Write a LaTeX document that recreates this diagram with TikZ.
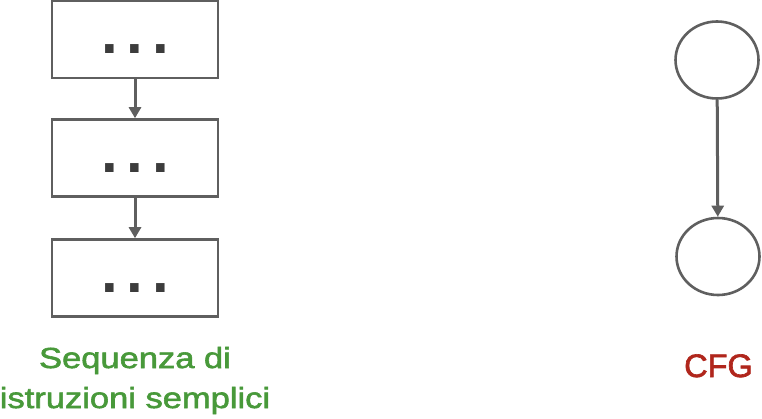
\documentclass[tikz,border=0pt]{standalone}
\usepackage{fontspec}
\setmainfont{Liberation Sans}
\newfontfamily\labelfont[FakeStretch=1.19,FakeBold=2]{Liberation Sans}
\newfontfamily\cfgfont[FakeBold=2]{Liberation Sans}
\newfontfamily\dotfont{Liberation Sans Bold}
\usetikzlibrary{arrows.meta,shapes.geometric}

\definecolor{linegray}{RGB}{95,95,95}
\definecolor{dotgray}{RGB}{60,60,60}
\definecolor{seqgreen}{RGB}{72,153,58}
\definecolor{cfgred}{RGB}{176,38,28}

\newcommand{\threedots}{.\hspace{8.8pt}.\hspace{8.8pt}.}

\begin{document}
\begin{tikzpicture}[x=1pt, y=-1pt,
    stmt/.style={draw=linegray, line width=2.6pt, minimum width=166pt, minimum height=77pt, inner sep=0pt},
    blk/.style={ellipse, draw=linegray, line width=2.6pt, minimum width=83pt, minimum height=77pt, inner sep=0pt},
    dots/.style={anchor=base, inner sep=0pt, text=dotgray, font=\dotfont\fontsize{60}{60}\selectfont},
    flow/.style={draw=linegray, line width=3pt, -{Triangle[length=11pt,width=12pt]}}]
  \useasboundingbox (0,0) rectangle (762,418);
  \node[stmt] (s1) at (135,39.5) {};
  \node[stmt] (s2) at (135,158) {};
  \node[stmt] (s3) at (135,278) {};
  \node[dots] at (135,53) {\threedots};
  \node[dots] at (135,172) {\threedots};
  \node[dots] at (135,292) {\threedots};
  \node[blk] (b1) at (717,60) {};
  \node[blk] (b2) at (718,256.5) {};
  \path
  (s1) edge[flow] (s2)
  (s2) edge[flow] (s3)
  (b1) edge[flow] (b2)
;
  \node[anchor=base, align=center, inner sep=0pt, text=seqgreen, font=\labelfont\fontsize{29}{40}\selectfont] (seq) at (135,408) {Sequenza di\\istruzioni semplici};
  \node[anchor=base, inner sep=0pt, text=cfgred, font=\cfgfont\fontsize{32.5}{36}\selectfont] (cfg) at (718.5,377) {CFG};
\end{tikzpicture}
\end{document}
